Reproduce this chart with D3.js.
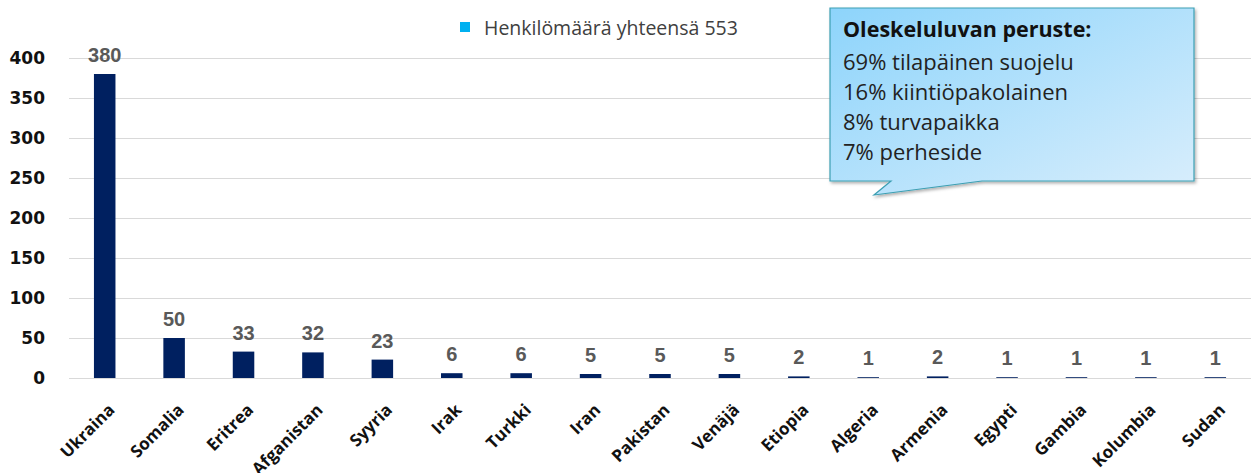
<!DOCTYPE html>
<html>
<head>
<meta charset="utf-8">
<script src="https://cdn.jsdelivr.net/npm/d3@7"></script>
<style>
body { margin: 0; background: #fff; }
svg { display: block; }
</style>
</head>
<body>
<script>
var countries = ["Ukraina", "Somalia", "Eritrea", "Afganistan", "Syyria", "Irak", "Turkki", "Iran",
    "Pakistan", "Venäjä", "Etiopia", "Algeria", "Armenia", "Egypti", "Gambia", "Kolumbia", "Sudan"];
var persons = [380, 50, 33, 32, 23, 6, 6, 5, 5, 5, 2, 1, 2, 1, 1, 1, 1];
var yTicks = [0, 50, 100, 150, 200, 250, 300, 350, 400];
var legendLabel = "Henkilömäärä yhteensä 553";
var calloutTitle = "Oleskeluluvan peruste:";
var calloutLines = ["69% tilapäinen suojelu", "16% kiintiöpakolainen", "8% turvapaikka", "7% perheside"];

var width = 1251, height = 473;

var svg = d3.select("body").append("svg")
    .attr("width", width)
    .attr("height", height);

var xScale = d3.scaleBand().domain(countries).range([70, 1250]).padding(0),
    yScale = d3.scaleLinear().domain([0, 400]).range([378, 58]);

var barW = xScale.bandwidth() * 0.31;

// grid lines
svg.append("g").selectAll("line")
    .data(yTicks)
    .enter().append("line")
    .attr("x1", 69).attr("x2", 1251)
    .attr("y1", function(d) { return Math.round(yScale(d)) + 0.5; })
    .attr("y2", function(d) { return Math.round(yScale(d)) + 0.5; })
    .attr("stroke", "#d9d9d9")
    .attr("stroke-width", 1.2);

// y axis labels
var yAxis = svg.append("g")
    .attr("transform", "translate(45,0)")
    .call(d3.axisLeft(yScale).tickValues(yTicks).tickSize(0).tickPadding(0));
yAxis.select(".domain").remove();
yAxis.selectAll("text")
    .attr("font-family", "'DejaVu Sans', sans-serif")
    .attr("font-weight", "bold")
    .attr("font-size", 17)
    .attr("fill", "#111");

// bars
svg.selectAll(".bar")
    .data(persons)
    .enter().append("rect")
    .attr("class", "bar")
    .attr("x", function(d, i) { return xScale(countries[i]) + xScale.bandwidth() / 2 - barW / 2; })
    .attr("y", function(d) { return yScale(d); })
    .attr("width", barW)
    .attr("height", function(d) { return yScale(0) - yScale(d); })
    .attr("fill", "#002060");

// value labels
svg.selectAll(".val")
    .data(persons)
    .enter().append("text")
    .attr("class", "val")
    .attr("x", function(d, i) { return xScale(countries[i]) + xScale.bandwidth() / 2; })
    .attr("y", function(d) { return yScale(d) - 12; })
    .attr("text-anchor", "middle")
    .attr("font-family", "'Liberation Sans', Arial, sans-serif")
    .attr("font-weight", "bold")
    .attr("font-size", 20)
    .attr("fill", "#595959")
    .text(function(d) { return d; });

// x labels
svg.selectAll(".xl")
    .data(countries)
    .enter().append("text")
    .attr("class", "xl")
    .attr("transform", function(d) {
        return "translate(" + (xScale(d) + xScale.bandwidth() / 2 + 11) + ",411) rotate(-45)";
    })
    .attr("text-anchor", "end")
    .attr("font-family", "'Open Sans', sans-serif")
    .attr("font-weight", "bold")
    .attr("font-size", 17)
    .attr("fill", "#111")
    .text(function(d) { return d; });

// legend
svg.append("rect")
    .attr("x", 460).attr("y", 22).attr("width", 10).attr("height", 10)
    .attr("fill", "#00b0f0");
svg.append("text")
    .attr("x", 484).attr("y", 35)
    .attr("font-family", "'Open Sans', sans-serif")
    .attr("font-size", 19.5)
    .attr("fill", "#404040")
    .text(legendLabel);

// callout
var defs = svg.append("defs");
var grad = defs.append("linearGradient")
    .attr("id", "cg")
    .attr("x1", "0").attr("y1", "0").attr("x2", "1").attr("y2", "1");
grad.append("stop").attr("offset", "0").attr("stop-color", "#8dd4fb");
grad.append("stop").attr("offset", "1").attr("stop-color", "#d9eefc");
var sh = defs.append("filter").attr("id", "sh").attr("x", "-10%").attr("y", "-10%").attr("width", "130%").attr("height", "140%");
sh.append("feDropShadow").attr("dx", 1.5).attr("dy", 2).attr("stdDeviation", 1.5)
    .attr("flood-color", "#000").attr("flood-opacity", 0.3);

var bx = 830, by = 8, bw = 364, bh = 173;
var path = d3.path();
path.moveTo(bx, by);
path.lineTo(bx + bw, by);
path.lineTo(bx + bw, by + bh);
path.lineTo(bx + 152, by + bh);
path.lineTo(bx + 44, by + 187);
path.lineTo(bx + 61, by + bh);
path.lineTo(bx, by + bh);
path.closePath();
svg.append("path")
    .attr("d", path.toString())
    .attr("fill", "url(#cg)")
    .attr("stroke", "#3d9fb3")
    .attr("stroke-width", 1.2)
    .attr("filter", "url(#sh)");

svg.append("text")
    .attr("x", 843).attr("y", 37)
    .attr("font-family", "'Open Sans', sans-serif")
    .attr("font-weight", "bold")
    .attr("font-size", 21.5)
    .attr("fill", "#111")
    .text(calloutTitle);
svg.selectAll(".cl")
    .data(calloutLines)
    .enter().append("text")
    .attr("class", "cl")
    .attr("x", 843)
    .attr("y", function(d, i) { return 70 + i * 30; })
    .attr("font-family", "'Open Sans', sans-serif")
    .attr("font-size", 22)
    .attr("fill", "#222")
    .text(function(d) { return d; });
</script>
</body>
</html>
